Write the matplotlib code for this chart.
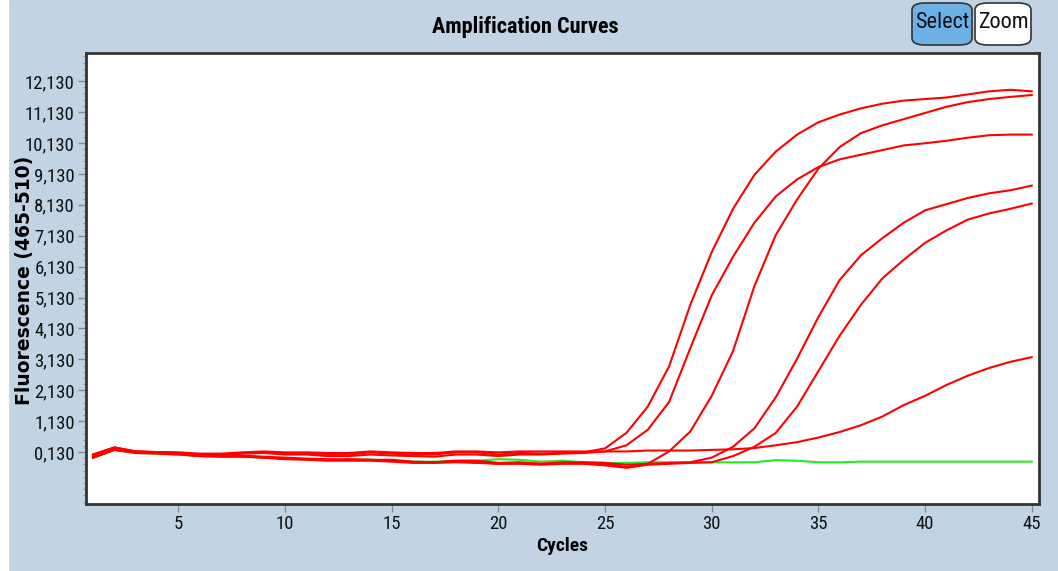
import matplotlib.pyplot as plt
from matplotlib import font_manager
from matplotlib.patches import FancyBboxPatch
from matplotlib.ticker import FixedLocator

# cycles 1..45
cycles = list(range(1, 46))

# fluorescence readings (465-510), one list per sample
sample_a = [0.05, 0.28, 0.15, 0.13, 0.10, 0.05, 0.05, 0.10, 0.12, 0.08,
            0.10, 0.05, 0.05, 0.12, 0.08, 0.05, 0.05, 0.12, 0.12, 0.05,
            0.10, 0.08, 0.10, 0.12, 0.25, 0.75, 1.60, 2.90, 4.90, 6.60,
            8.00, 9.10, 9.85, 10.40, 10.80, 11.05, 11.25, 11.40, 11.50, 11.55,
            11.60, 11.70, 11.80, 11.85, 11.80]
sample_b = [-0.05, 0.20, 0.12, 0.10, 0.08, 0.00, 0.00, 0.02, -0.02, -0.05,
            -0.08, -0.10, -0.12, -0.12, -0.12, -0.18, -0.20, -0.15, -0.15, -0.22,
            -0.20, -0.25, -0.20, -0.22, -0.25, -0.35, -0.25, 0.15, 0.80, 1.95,
            3.40, 5.50, 7.15, 8.30, 9.30, 10.00, 10.45, 10.70, 10.90, 11.10,
            11.30, 11.45, 11.55, 11.62, 11.68]
sample_c = [0.02, 0.25, 0.15, 0.12, 0.10, 0.05, 0.03, 0.08, 0.10, 0.05,
            0.05, 0.00, 0.00, 0.05, 0.02, 0.00, -0.02, 0.05, 0.05, 0.00,
            0.05, 0.05, 0.08, 0.10, 0.15, 0.35, 0.85, 1.75, 3.50, 5.20,
            6.45, 7.55, 8.40, 8.95, 9.35, 9.60, 9.75, 9.90, 10.05, 10.12,
            10.20, 10.30, 10.38, 10.40, 10.40]
sample_d = [-0.02, 0.22, 0.12, 0.10, 0.08, 0.02, 0.00, 0.00, -0.05, -0.08,
            -0.10, -0.12, -0.10, -0.12, -0.15, -0.20, -0.20, -0.18, -0.20, -0.25,
            -0.22, -0.25, -0.22, -0.20, -0.22, -0.28, -0.25, -0.22, -0.20, -0.05,
            0.30, 0.90, 1.90, 3.15, 4.50, 5.70, 6.50, 7.05, 7.55, 7.95,
            8.15, 8.35, 8.50, 8.60, 8.75]
sample_e = [-0.05, 0.20, 0.10, 0.08, 0.05, 0.00, -0.02, -0.02, -0.05, -0.10,
            -0.12, -0.15, -0.15, -0.15, -0.18, -0.22, -0.22, -0.20, -0.22, -0.25,
            -0.25, -0.28, -0.25, -0.25, -0.30, -0.38, -0.28, -0.25, -0.22, -0.20,
            0.00, 0.30, 0.75, 1.60, 2.75, 3.90, 4.90, 5.75, 6.35, 6.90,
            7.30, 7.65, 7.85, 8.00, 8.17]
sample_f = [0.05, 0.28, 0.15, 0.13, 0.12, 0.08, 0.08, 0.12, 0.15, 0.12,
            0.12, 0.10, 0.10, 0.15, 0.12, 0.10, 0.10, 0.15, 0.15, 0.12,
            0.15, 0.15, 0.15, 0.15, 0.15, 0.15, 0.18, 0.18, 0.18, 0.20,
            0.22, 0.26, 0.35, 0.45, 0.60, 0.78, 1.00, 1.28, 1.65, 1.95,
            2.30, 2.60, 2.85, 3.05, 3.20]
negative = [-0.05, 0.20, 0.10, 0.08, 0.05, 0.00, -0.02, -0.02, -0.05, -0.08,
            -0.10, -0.12, -0.12, -0.12, -0.15, -0.18, -0.18, -0.15, -0.15, -0.10,
            -0.12, -0.18, -0.15, -0.20, -0.22, -0.22, -0.20, -0.20, -0.20, -0.20,
            -0.20, -0.20, -0.13, -0.15, -0.20, -0.20, -0.18, -0.18, -0.18, -0.18,
            -0.18, -0.18, -0.18, -0.18, -0.18]

positives = [sample_a, sample_b, sample_c, sample_d, sample_e, sample_f]

y_ticks = [0.13 + i for i in range(13)]
y_labels = ['%d,130' % i for i in range(13)]
x_ticks = [5, 10, 15, 20, 25, 30, 35, 40, 45]

bg = '#c2d4e4'

# look for a narrow face among the installed fonts
names = {f.name for f in font_manager.fontManager.ttflist}
narrow_fam = None
for cand in ['Liberation Sans Narrow', 'Arial Narrow', 'Roboto Condensed',
             'Open Sans Condensed', 'DejaVu Sans Condensed']:
    if cand in names:
        narrow_fam = cand
        break
if narrow_fam is None:
    narrow = dict(family='DejaVu Sans', stretch='condensed')
else:
    narrow = dict(family=narrow_fam)

fig = plt.figure(figsize=(10.58, 5.71), dpi=100, facecolor=bg)
# thin white strip on the left edge
fig.patches.append(plt.Rectangle((0, 0), 8 / 1058, 1, transform=fig.transFigure,
                                 color='white', zorder=0))

ax = fig.add_axes([86 / 1058, 1 - 504 / 571, (1039 - 86) / 1058, (504 - 53) / 571])
ax.set_facecolor('white')

ax.plot(cycles, negative, color='#22ee22', lw=1.5, zorder=2)
for s in positives:
    ax.plot(cycles, s, color='#ff0000', lw=1.5, zorder=3)

ax.set_xlim(0.67, 45.34)
ax.set_ylim(-1.55, 13.04)

ax.set_xticks(x_ticks)
ax.set_yticks(y_ticks)
ax.set_yticklabels(y_labels)
ax.yaxis.set_minor_locator(FixedLocator([y_ticks[0] + 0.2 * k for k in range(-8, 65)]))

for sp in ax.spines.values():
    sp.set_color('#333333')
    sp.set_linewidth(2)

ax.tick_params(axis='both', which='major', color='#888888', length=6, width=1,
               labelsize=13.5, labelcolor='#111111', pad=2)
ax.tick_params(axis='y', which='minor', color='#999999', length=2, width=1)
for lab in ax.get_xticklabels() + ax.get_yticklabels():
    lab.set(**narrow)

ax.set_xlabel('Cycles', fontsize=14, fontweight='bold', labelpad=3, **narrow)
fig.text(25 / 1058, 1 - 280 / 571, 'Fluorescence (465-510)', rotation=90,
         ha='center', va='center', fontsize=13.5, fontweight='bold', family='DejaVu Sans')
fig.text(525 / 1058, 1 - 27 / 571, 'Amplification Curves', ha='center', va='center',
         fontsize=16, fontweight='bold', **narrow)

# Select / Zoom buttons
for x0, x1, fc, label in [(912, 972, '#6cb0e6', 'Select'), (975, 1031, 'white', 'Zoom')]:
    box = FancyBboxPatch((x0 / 1058, 1 - 45 / 571), (x1 - x0) / 1058, 42 / 571,
                         boxstyle='round,pad=0,rounding_size=0.012',
                         transform=fig.transFigure, facecolor=fc,
                         edgecolor='#333333', lw=1.2)
    fig.patches.append(box)
    fig.text((x0 + x1) / 2 / 1058, 1 - 22 / 571, label, ha='center', va='center',
             fontsize=16, color='#111111', **narrow)

fig.savefig('out.png', dpi=100, facecolor=bg)
